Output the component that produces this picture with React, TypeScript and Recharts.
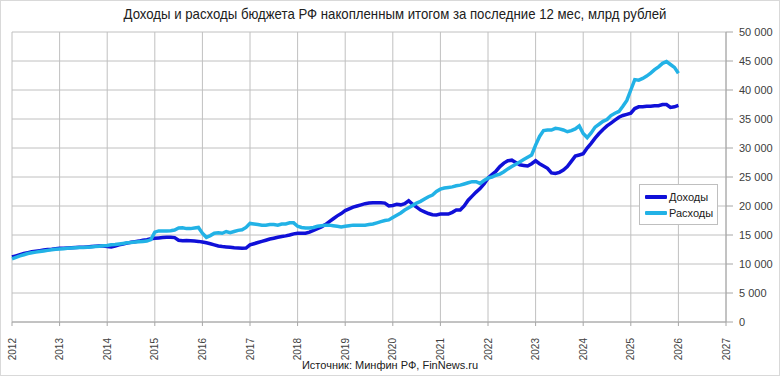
import React from "react";
import { LineChart, Line, XAxis, YAxis, CartesianGrid } from "recharts";

const TITLE = "Доходы и расходы бюджета РФ накопленным итогом за последние 12 мес, млрд рублей";
const SOURCE = "Источник: Минфин РФ, FinNews.ru";
const SERIES_NAMES = ["Доходы", "Расходы"];
const START_YEAR = 2012;
const yearTicks = [2012, 2013, 2014, 2015, 2016, 2017, 2018, 2019, 2020, 2021, 2022, 2023, 2024, 2025, 2026, 2027];
const valueTicks = [0, 5000, 10000, 15000, 20000, 25000, 30000, 35000, 40000, 45000, 50000];

// monthly, Jan 2012 .. Jan 2026
const income = [
  11200, 11400, 11600, 11800, 11950, 12100, 12200, 12300, 12400, 12500, 12550, 12650,
  12700, 12700, 12750, 12800, 12850, 12900, 12900, 12950, 13000, 13050, 13100, 13100,
  13000, 12950, 13100, 13300, 13450, 13600, 13750, 13850, 13950, 14100, 14200, 14350,
  14450, 14500, 14550, 14600, 14600, 14550, 14100, 14000, 14050, 14000, 13950, 13900,
  13800, 13650, 13500, 13300, 13100, 13000, 12950, 12900, 12800, 12750, 12700, 12750,
  13300, 13500, 13700, 13900, 14100, 14300, 14450, 14600, 14750, 14850, 15000, 15200,
  15300, 15300, 15300, 15500, 15800, 16100, 16400, 16800, 17300, 17800, 18300, 18700,
  19200, 19500, 19800, 20000, 20200, 20400, 20500, 20550, 20550, 20550, 20500, 20000,
  20100, 20300, 20200, 20400, 20900, 20300, 19800, 19300, 19000, 18700, 18500, 18450,
  18600, 18600, 18600, 18900, 19300, 19300, 20000, 21000, 21700, 22400, 23000, 23800,
  24800, 25400, 26000, 26800, 27400, 27800, 27900, 27500, 27100, 27000, 26900, 27300,
  27800, 27300, 26900, 26500, 25700, 25600, 25800, 26200, 26800, 27700, 28600, 28800,
  29000, 30000, 30800, 31700, 32500, 33200, 33800, 34300, 34800, 35300, 35600, 35800,
  36000, 36800, 37100, 37100, 37200, 37200, 37300, 37300, 37500, 37500, 37000, 37100,
  37350,
];

const spending = [
  10900, 11150, 11400, 11600, 11800, 11950, 12050, 12150, 12250, 12350, 12450, 12550,
  12600, 12650, 12700, 12750, 12800, 12850, 12850, 12900, 12950, 13000, 13050, 13150,
  13200, 13300, 13350, 13450, 13550, 13650, 13700, 13800, 13850, 13900, 13950, 14200,
  15500, 15700, 15700, 15700, 15750, 15850, 16200, 16250, 16100, 16100, 16200, 16300,
  15300, 14600, 14900, 15300, 15400, 15300, 15600, 15400, 15600, 15800, 15900, 16300,
  17000, 16900, 16800, 16700, 16700, 16800, 16800, 16700, 16900, 16900, 17100, 17100,
  16500, 16300, 16200, 16200, 16300, 16500, 16600, 16700, 16700, 16600, 16500, 16400,
  16500, 16600, 16700, 16700, 16700, 16700, 16800, 16900, 17100, 17300, 17500, 17600,
  18000, 18400, 18800, 19300, 19700, 20100, 20500, 20800, 21200, 21600, 21900, 22500,
  22900, 23100, 23200, 23300, 23500, 23600, 23800, 24000, 24200, 24200, 23900, 24400,
  24800, 25000, 25300, 25500, 25900, 26400, 26800, 27200, 27600, 28000, 28400, 28800,
  30500, 32000, 33000, 33100, 33100, 33400, 33300, 33100, 32800, 33000, 33300, 33800,
  32500, 31800, 32600, 33600, 34100, 34600, 34900, 35600, 36000, 36300, 37200, 38200,
  40000, 41800, 41700, 42000, 42400, 42900, 43500, 44000, 44600, 44900, 44400, 43900,
  42900,
];

const data = income.map((v, i) => ({ t: START_YEAR + i / 12, income: v, spending: spending[i] }));

const COLORS = ["#1010D8", "#22B2E6"];
const FONT = "'Liberation Sans', Arial, sans-serif";

const fmt = (v: number) => String(v).replace(/\B(?=(\d{3})+(?!\d))/g, " ");

const XTick = (props: any) => {
  const { x, y, payload } = props;
  const ty = y + 10;
  return (
    <text x={x} y={ty} dy="0.35em" textAnchor="end" transform={`rotate(-90 ${x} ${ty})`}
      fontSize={10} fontFamily={FONT} fill="#404040">
      {payload.value}
    </text>
  );
};

const LegendBox = () => (
  <div style={{ position: "absolute", left: 639, top: 184, width: 79, height: 41, border: "1px solid #bfbfbf", background: "#fff", boxSizing: "border-box", padding: "4px 0 0 5px", fontFamily: FONT, fontSize: 11, color: "#202020" }}>
    {SERIES_NAMES.map((n, i) => (
      <div key={n} style={{ display: "flex", alignItems: "center", height: 16 }}>
        <div style={{ width: 22, height: 4, background: COLORS[i], borderRadius: 1, marginRight: 2 }} />
        <span>{n}</span>
      </div>
    ))}
  </div>
);

export default function App() {
  return (
    <div style={{ position: "absolute", left: 0, top: 0, width: 780, height: 376, background: "#fff" }}>
      <div style={{ position: "absolute", left: 0, top: 0, width: 780, height: 376, border: "1px solid #d9d9d9", boxSizing: "border-box", pointerEvents: "none" }} />
      <div style={{ position: "absolute", left: 5, top: 5, width: 780, textAlign: "center", fontFamily: FONT, fontSize: 15, color: "#202020", lineHeight: "18px", whiteSpace: "nowrap", transform: "scaleX(0.88)", transformOrigin: "390px 0" }}>
        {TITLE}
      </div>
      <LineChart width={780} height={376} data={data} margin={{ top: 32, right: 0, left: 12, bottom: 0 }}>
        <CartesianGrid stroke="#c0c0c0" strokeWidth={1} />
        <XAxis dataKey="t" type="number" domain={[2012, 2027]} ticks={yearTicks} interval={0}
          height={54} tick={<XTick />} tickSize={4} stroke="#a6a6a6" allowDecimals={false} />
        <YAxis orientation="right" domain={[0, 50000]} ticks={valueTicks} width={54} tickSize={7}
          tickMargin={6} interval={0} stroke="#a6a6a6" tickFormatter={fmt}
          tick={{ fontSize: 11, fontFamily: FONT, fill: "#404040" }} />
        <Line type="linear" dataKey="income" name={SERIES_NAMES[0]} stroke={COLORS[0]} strokeWidth={3.5} dot={false} isAnimationActive={false} />
        <Line type="linear" dataKey="spending" name={SERIES_NAMES[1]} stroke={COLORS[1]} strokeWidth={3.5} dot={false} isAnimationActive={false} />
      </LineChart>
      <LegendBox />
      <div style={{ position: "absolute", left: 0, top: 358, width: 780, textAlign: "center", fontFamily: FONT, fontSize: 11, color: "#202020", lineHeight: "14px", whiteSpace: "nowrap" }}>
        {SOURCE}
      </div>
    </div>
  );
}
